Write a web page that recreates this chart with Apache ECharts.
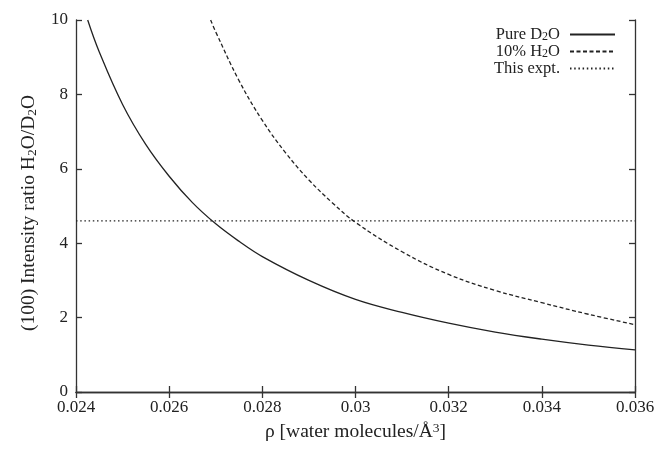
<!DOCTYPE html>
<html>
<head>
<meta charset="utf-8">
<script src="https://cdn.jsdelivr.net/npm/echarts@6/dist/echarts.min.js"></script>
<style>
html,body{margin:0;padding:0;background:#fff;}
#chart{width:662px;height:452px;}
</style>
</head>
<body>
<div id="chart"></div>
<script>
// ---- data ----
const xTicks = [0.024, 0.026, 0.028, 0.03, 0.032, 0.034, 0.036];
const yTicks = [0, 2, 4, 6, 8, 10];

const rhoPure = [0.024251, 0.0245, 0.025, 0.0255, 0.026, 0.0265, 0.027, 0.0275, 0.028, 0.029, 0.030, 0.031, 0.032, 0.033, 0.034, 0.035, 0.036];
const ratioPure = [10, 9.14, 7.73, 6.65, 5.80, 5.09, 4.52, 4.05, 3.64, 3.00, 2.49, 2.14, 1.85, 1.61, 1.42, 1.26, 1.13];

const rhoMix = [0.02689, 0.027, 0.0275, 0.028, 0.0285, 0.029, 0.0295, 0.030, 0.031, 0.032, 0.033, 0.034, 0.035, 0.036];
const ratioMix = [10, 9.68, 8.37, 7.30, 6.43, 5.70, 5.09, 4.56, 3.77, 3.16, 2.73, 2.40, 2.09, 1.81];

const rhoExpt = [0.024, 0.036];
const ratioExpt = [4.6, 4.6];

const seriesNames = ['Pure D2O', '10% H2O', 'This expt.'];
// ---------------------------------------

const FONT = '"Liberation Serif", "DejaVu Serif", serif';
const INK = '#222';
const zip = (xs, ys) => xs.map((x, i) => [x, ys[i]]);

function rich(size, subSize, lh, subLh) {
  return {
    n: {fontFamily: FONT, fontSize: size, color: INK, lineHeight: lh},
    sub: {fontFamily: FONT, fontSize: subSize, color: INK, lineHeight: subLh, verticalAlign: 'bottom'},
    sup: {fontFamily: FONT, fontSize: subSize, color: INK, lineHeight: subLh, verticalAlign: 'top'}
  };
}

const legendLabels = {
  'Pure D2O': '{n|Pure D}{sub|2}{n|O}',
  '10% H2O': '{n|10% H}{sub|2}{n|O}',
  'This expt.': '{n|This expt.}'
};

const chart = echarts.init(document.getElementById('chart'), null, {renderer: 'canvas'});

const axisLineStyle = {color: '#333', width: 1.3};

chart.setOption({
  backgroundColor: '#fff',
  animation: false,
  grid: {left: 76, right: 27, top: 20, bottom: 60, containLabel: false},
  legend: {
    orient: 'vertical',
    right: 41,
    top: 21,
    align: 'right',
    itemWidth: 45,
    itemHeight: 10,
    itemGap: 0,
    padding: [5, 5, 5, 5],
    data: seriesNames,
    formatter: name => legendLabels[name],
    itemStyle: {opacity: 0},
    textStyle: {fontFamily: FONT, fontSize: 16.5, color: INK, padding: [0, 5, 0, 0], rich: rich(16.5, 12, 17, 9)}
  },
  xAxis: [{
    type: 'value',
    position: 'bottom',
    min: xTicks[0],
    max: xTicks[xTicks.length - 1],
    interval: 0.002,
    name: '{n|ρ [water molecules/Å}{sup|3}{n|]}',
    nameLocation: 'middle',
    nameGap: 29,
    nameTextStyle: {rich: rich(19.5, 13.5, 21, 10)},
    axisLine: {show: true, lineStyle: axisLineStyle},
    axisTick: {show: true, inside: true, length: 6, lineStyle: axisLineStyle},
    axisLabel: {
      fontFamily: FONT, fontSize: 17, color: INK, margin: 7,
      formatter: v => String(+v.toFixed(3))
    },
    splitLine: {show: false}
  }, {
    type: 'value',
    position: 'top',
    min: xTicks[0],
    max: xTicks[xTicks.length - 1],
    interval: 0.002,
    axisLine: {show: true, lineStyle: axisLineStyle},
    axisTick: {show: true, inside: true, length: 6, lineStyle: axisLineStyle},
    axisLabel: {show: false},
    splitLine: {show: false}
  }],
  yAxis: [{
    type: 'value',
    position: 'left',
    min: yTicks[0],
    max: yTicks[yTicks.length - 1],
    interval: 2,
    name: '{n|(100) Intensity ratio H}{sub|2}{n|O/D}{sub|2}{n|O}',
    nameLocation: 'middle',
    nameGap: 37,
    nameRotate: 90,
    nameTextStyle: {rich: rich(19.5, 13.5, 21, 10), padding: [0, 14, 0, 0]},
    axisLine: {show: true, lineStyle: axisLineStyle},
    axisTick: {show: true, inside: true, length: 6, lineStyle: axisLineStyle},
    axisLabel: {fontFamily: FONT, fontSize: 17, color: INK, margin: 8},
    splitLine: {show: false}
  }, {
    type: 'value',
    position: 'right',
    min: yTicks[0],
    max: yTicks[yTicks.length - 1],
    interval: 2,
    axisLine: {show: true, lineStyle: axisLineStyle},
    axisTick: {show: true, inside: true, length: 6, lineStyle: axisLineStyle},
    axisLabel: {show: false},
    splitLine: {show: false}
  }],
  series: [{
    name: seriesNames[0],
    type: 'line',
    data: zip(rhoPure, ratioPure),
    smooth: 0.4,
    showSymbol: false,
    symbol: 'none',
    lineStyle: {color: INK, width: 1.3, type: 'solid'},
    itemStyle: {color: INK}
  }, {
    name: seriesNames[1],
    type: 'line',
    data: zip(rhoMix, ratioMix),
    smooth: 0.4,
    showSymbol: false,
    symbol: 'none',
    lineStyle: {color: INK, width: 1.3, type: [4, 2.5]},
    itemStyle: {color: INK}
  }, {
    name: seriesNames[2],
    type: 'line',
    data: zip(rhoExpt, ratioExpt),
    showSymbol: false,
    symbol: 'none',
    lineStyle: {color: INK, width: 1.3, type: [1.5, 2.7]},
    itemStyle: {color: INK}
  }]
});
</script>
</body>
</html>
